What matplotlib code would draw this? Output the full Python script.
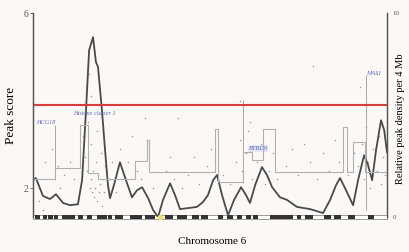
import matplotlib
matplotlib.use("Agg")
import matplotlib.pyplot as plt

# peak score curve (position in Mb, smoothed peak score)
pos = [0.0, 1.4, 4.8, 8.2, 11.1, 14.5, 17.9, 21.7, 23.7, 25.6, 27.1, 29.0, 30.4, 31.4,
       32.4, 33.3, 34.8, 36.2, 37.2, 39.1, 42.0, 44.9, 47.8, 50.2, 52.7, 55.6, 58.0,
       60.4, 62.8, 66.2, 68.6, 71.0, 74.4, 79.2, 82.1, 84.5, 87.0, 88.9, 91.3, 94.2,
       97.1, 100.5, 102.9, 104.8, 107.3, 110.6, 113.0, 115.5, 119.3, 122.7, 127.5,
       133.8, 140.1, 143.5, 146.4, 148.3, 150.7, 154.6, 157.0, 159.9, 161.8, 163.8,
       165.7, 168.1, 169.6, 171.0]
score = [2.18, 2.23, 1.82, 1.75, 1.86, 1.66, 1.61, 1.63, 2.18, 3.78, 5.15, 5.45, 4.88, 4.77,
         4.24, 3.78, 2.87, 2.07, 1.77, 2.07, 2.59, 2.18, 1.79, 1.95, 2.02, 1.77, 1.50,
         1.34, 1.73, 2.11, 1.84, 1.52, 1.54, 1.57, 1.68, 1.84, 2.18, 2.30, 1.84, 1.38,
         1.73, 2.02, 1.84, 1.66, 2.07, 2.48, 2.30, 2.02, 1.79, 1.73, 1.57,
         1.52, 1.43, 1.73, 2.07, 2.23, 2.00, 1.61, 2.18, 2.75, 2.53, 2.18,
         2.87, 3.55, 3.33, 2.82]

# individual peaks
peak_x = [3, 5, 6, 9, 12, 13, 15, 18, 20,
          24, 25, 26, 26.5, 27, 27.5, 27.8, 28, 28.2, 28.5, 29, 29.5, 30, 30.5, 30.8, 31,
          31.5, 32, 32.5, 33, 33.5, 34, 34.5, 35, 36, 37, 38,
          40, 42, 44, 46, 48, 50, 52, 54, 55, 56, 58,
          64, 66, 68, 70, 72, 75, 78, 80, 84, 86, 87, 88,
          92, 95, 98, 100, 100, 101, 103, 104, 105, 106, 108, 110, 112, 114, 116, 118,
          122, 125, 128, 131, 134, 135, 137, 140, 143, 146, 148,
          152, 155, 157, 158, 159, 160, 161, 162, 163, 164, 166, 166, 167, 168, 169, 170]
peak_y = [1.7, 1.5, 2.6, 2.9, 2.5, 2.0, 2.3, 2.6, 2.2,
          3.2, 2.7, 2.4, 3.5, 4.6, 2.0, 4.1, 2.2, 3.0, 1.9, 2.4, 1.8, 2.0, 2.6, 3.3, 1.7,
          2.3, 1.9, 2.1, 2.8, 1.6, 2.2, 1.9, 2.5, 2.0, 2.2, 2.6,
          1.9, 2.9, 2.3, 2.6, 3.2, 2.4, 2.2, 3.6, 3.1, 2.5, 2.0,
          2.4, 2.7, 2.2, 3.6, 2.0, 2.3, 2.7, 2.1, 2.5, 2.9, 2.2, 2.6,
          2.3, 2.1, 2.6, 3.1, 4.0, 2.4, 2.8, 3.3, 3.5, 2.2, 2.6, 3.0, 2.1, 2.4, 2.8, 2.2,
          2.5, 2.9, 2.3, 3.0, 2.6, 4.8, 2.2, 2.8, 2.4, 3.1, 2.6,
          2.3, 2.8, 2.5, 4.3, 3.0, 2.2, 3.4, 2.6, 2.0, 2.9, 2.4, 4.6, 3.2, 2.1, 2.7, 2.3]

# relative peak density per 4 Mb (step function)
dens_edges = [0, 10.6, 22.7, 26.4, 31.5, 49.3, 55.1, 55.8, 88.0, 89.4, 101.4, 105.8,
              111.1, 117.0, 149.7, 151.7, 154.6, 160.4, 171]
dens_vals = [1.85, 2.4, 4.5, 2.15, 1.85, 2.75, 3.8, 2.2, 4.3, 1.7, 3.2, 2.8,
             4.3, 2.2, 4.4, 2.2, 3.7, 2.2]

threshold = 3.89

# gene markers
genes = ["HCG18", "Histone cluster 1", "BTBD9", "MAS1"]
gene_x = [6.3, 29.5, 108.7, 164.7]
gene_y = [3.49, 3.71, 2.91, 4.63]
gene_box = [False, False, True, False]
marker_x = [10.6, 101.4, 160.9]
marker_lo = [2.18, 2.11, 1.5]
marker_hi = [3.44, 4.01, 4.58]

# chromosome 6 ideogram dark bands (Mb)
band_start = [1.0, 4.8, 7.2, 10.1, 14.0, 21.7, 26.1, 31.0, 36.2, 39.6, 46.9, 54.1,
              63.8, 69.6, 76.8, 81.2, 89.4, 93.7, 98.5, 102.9, 106.3, 114.5, 127.5,
              131.3, 140.5, 145.4, 152.1, 161.8]
band_end = [3.4, 6.8, 9.7, 12.1, 20.3, 24.2, 28.5, 35.7, 38.2, 43.5, 52.7, 58.9,
            67.6, 74.4, 80.0, 84.5, 91.8, 96.6, 100.9, 105.3, 108.7, 125.6, 129.4,
            135.3, 144.0, 148.8, 155.5, 164.7]
centromere = 61.3

bg = "#fcf8f5"
plt.rcParams["font.family"] = ["Liberation Serif", "DejaVu Serif"]

fig = plt.figure(figsize=(4.10, 2.52), dpi=100, facecolor=bg)
ax = fig.add_axes([0.0805, 0.139, 0.8635, 0.809], facecolor=bg)
ax2 = ax.twinx()

# density steps
ax2.stairs(dens_vals, dens_edges, color="#b0b0b0", lw=0.8, baseline=None)
ax2.set_ylim(0, 10)

ax.scatter(peak_x, peak_y, s=1.2, color="#9a9a9a", lw=0, zorder=2)
ax.vlines(marker_x, marker_lo, marker_hi, color="#a8a8a8", lw=0.7, zorder=2)
ax.plot(pos, score, color="#4a4a4a", lw=1.3, solid_joinstyle="round", zorder=4)
ax.axhline(threshold, color="#d83c3c", lw=1.5, zorder=5)

for name, gx, gy, boxed in zip(genes, gene_x, gene_y, gene_box):
    box = dict(boxstyle="square,pad=0.15", fc="#e2e6f6", ec="none") if boxed else None
    ax.text(gx, gy, name, fontsize=4.5, style="italic", color="#5a6ac0",
            ha="center", va="center", zorder=6, bbox=box)

# ideogram
ax.broken_barh([(0, 171)], (1.29, 0.1), facecolors="white", edgecolors="#555555",
               linewidth=0.4, zorder=3, clip_on=False)
ax.broken_barh([(s, e - s) for s, e in zip(band_start, band_end)], (1.29, 0.1),
               facecolors="#333333", zorder=3, clip_on=False)
ax.plot([centromere], [1.34], "o", ms=3, color="#e8e060", zorder=6, clip_on=False)

ax.set_xlim(0, 171)
ax.set_ylim(1.34, 6)
ax.set_yticks([2, 6])
ax.set_xticks([])
ax2.set_yticks([0, 10])
ax.tick_params(axis="y", labelsize=7, length=2, width=0.6, pad=1, colors="#555555")
ax2.tick_params(axis="y", labelsize=5, length=0, pad=4, colors="#555555")
for a in (ax, ax2):
    a.spines["top"].set_visible(False)
    a.spines["bottom"].set_visible(False)
    a.spines["left"].set_color("#555555")
    a.spines["right"].set_color("#555555")
    a.spines["left"].set_linewidth(0.9)
    a.spines["right"].set_linewidth(0.9)

ax.set_ylabel("Peak score", fontsize=9.5, labelpad=5)
fig.text(0.978, 0.53, "Relative peak density per 4 Mb", fontsize=7.5, rotation=90,
         ha="center", va="center")
fig.text(0.517, 0.04, "Chromosome 6", fontsize=8, ha="center", va="center")

fig.savefig("out.png", dpi=100, facecolor=bg)
